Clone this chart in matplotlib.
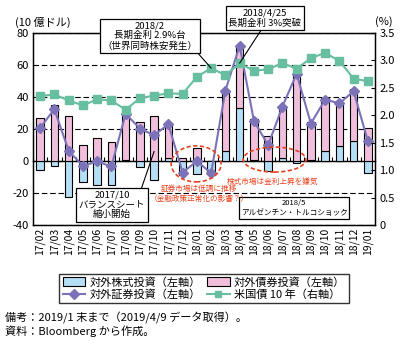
import matplotlib
matplotlib.use("Agg")
import matplotlib.pyplot as plt
import numpy as np
from matplotlib.lines import Line2D
from matplotlib.patches import Ellipse, Patch

plt.rcParams['font.family'] = ['Noto Sans CJK JP', 'DejaVu Sans']

months = ["17/02", "17/03", "17/04", "17/05", "17/06", "17/07", "17/08", "17/09",
          "17/10", "17/11", "17/12", "18/01", "18/02", "18/03", "18/04", "18/05",
          "18/06", "18/07", "18/08", "18/09", "18/10", "18/11", "18/12", "19/01"]

# 10億ドル
equity = [-5.5, -3.0, -22.5, -13.0, -14.7, -14.7, 0.8, -3.6, -11.6, 2.0, -8.8, -8.3,
          -7.0, 6.4, 33.2, 0.5, -6.1, 2.0, -1.1, 0.5, 6.4, 9.5, 12.6, -7.8]
bonds = [27.0, 35.3, 28.4, 10.0, 14.5, 12.0, 30.7, 24.5, 28.2, 21.5, 2.0, 8.2,
         -1.0, 37.5, 38.2, 25.5, 15.7, 32.5, 56.0, 24.0, 33.0, 27.5, 32.3, 20.7]
total = [20.7, 32.4, 6.4, -3.1, -0.3, -3.4, 29.5, 20.3, 16.1, 23.0, -7.2, -0.1,
         -7.6, 44.0, 72.0, 25.2, 9.9, 34.0, 54.5, 23.4, 38.4, 36.0, 43.6, 12.4]
# %
ust10y = [2.35, 2.38, 2.27, 2.18, 2.29, 2.27, 2.10, 2.31, 2.36, 2.40, 2.39, 2.70,
          2.86, 2.73, 2.95, 2.81, 2.84, 2.95, 2.85, 3.04, 3.14, 2.99, 2.67, 2.62]

left_ticks = [-40, -20, 0, 20, 40, 60, 80]
right_ticks = [0, 0.5, 1.0, 1.5, 2.0, 2.5, 3.0, 3.5]
right_labels = ["0", "0.5", "1.0", "1.5", "2.0", "2.5", "3.0", "3.5"]

BLUE = "#b5dff5"
PINK = "#f1bfdb"
PURPLE = "#7b72b8"
GREEN = "#68bf9f"
RED = "#e8401c"

W, H = 401, 345
fig = plt.figure(figsize=(W / 100, H / 100), dpi=100)
ax = fig.add_axes([33 / W, 1 - 225 / H, 342 / W, 192 / H])

x = np.arange(len(months))
eq = np.array(equity)
bd = np.array(bonds)
bd_bottom = np.where(np.sign(bd) == np.sign(eq), eq, 0)

ax.bar(x, eq, width=0.52, color=BLUE, edgecolor="black", linewidth=0.8, zorder=2)
ax.bar(x, bd, bottom=bd_bottom, width=0.52, color=PINK, edgecolor="black",
       linewidth=0.8, zorder=2)
ax.plot(x, total, color=PURPLE, lw=1.5, marker="D", markersize=5.5, zorder=4)

ax.set_xlim(-0.5, len(months) - 0.5)
ax.set_ylim(-40, 80)
ax.set_yticks(left_ticks)
ax.set_yticklabels([str(v) for v in left_ticks], fontsize=8)
ax.yaxis.grid(True, color="black", linestyle=(0, (5, 2.5)), linewidth=0.8)
ax.set_axisbelow(True)
ax.tick_params(axis="y", length=0, pad=3)
ax.set_xticks(x)
ax.set_xticklabels(months, rotation=90, fontsize=7.5)
ax.tick_params(axis="x", length=0, pad=2)
for s in ax.spines.values():
    s.set_linewidth(1.0)

# zero line with category separators
sec = ax.secondary_xaxis(1 / 3)
sec.set_xticks(np.arange(-0.5, len(months), 1))
sec.tick_params(direction="in", length=3, width=0.8, labelbottom=False, labeltop=False)
for s in sec.spines.values():
    s.set_linewidth(1.0)

ax2 = ax.twinx()
ax2.plot(x, ust10y, color=GREEN, lw=1.5, marker="s", markersize=5.5, zorder=5)
ax2.set_ylim(0, 3.5)
ax2.set_yticks(right_ticks)
ax2.set_yticklabels(right_labels, fontsize=8)
ax2.tick_params(axis="y", direction="in", length=3, pad=3)

fig.text(15 / W, 1 - 22 / H, "(10 億ドル)", fontsize=8, va="center", ha="left")
fig.text(375 / W, 1 - 22 / H, "(%)", fontsize=8, va="center", ha="left")

box = dict(boxstyle="square,pad=0.25", fc="white", ec="black", lw=0.9)
line = dict(arrowstyle="-", color="black", lw=0.8, shrinkA=0, shrinkB=0)

ax2.annotate("2018/2\n長期金利 2.9%台\n（世界同時株安発生）", xy=(12, ust10y[12]),
             xytext=(150, H - 36), textcoords="figure pixels", ha="center", va="center",
             fontsize=6.8, linespacing=1.1, bbox=box,
             arrowprops=dict(line, relpos=(0.98, 0)), zorder=10)
ax2.annotate("2018/4/25\n長期金利 3%突破", xy=(14, ust10y[14]),
             xytext=(265, H - 18), textcoords="figure pixels", ha="center", va="center",
             fontsize=6.8, linespacing=1.1, bbox=box,
             arrowprops=dict(line, relpos=(0.47, 0)), zorder=10)
ax2.annotate("2017/10\nバランスシート\n縮小開始", xy=(8, 6), xycoords=ax.transData,
             xytext=(112, H - 205), textcoords="figure pixels", ha="center", va="center",
             fontsize=6.8, linespacing=1.1, bbox=box,
             arrowprops=dict(line, relpos=(0.93, 1)), zorder=10)
ax2.text(294, H - 208, "2018/5\nアルゼンチン・トルコショック", transform=None,
         ha="center", va="center", fontsize=5.5, linespacing=1.3, bbox=box, zorder=10)

ax2.add_patch(Ellipse((10.95, -1.8), 3.5, 22.5, transform=ax.transData, fill=False,
                      ec=RED, lw=1.2, ls=(0, (2.5, 1.5)), zorder=9))
ax2.add_patch(Ellipse((16.45, 0.9), 4.4, 15.6, transform=ax.transData, fill=False,
                      ec=RED, lw=1.2, ls=(0, (2.5, 1.5)), zorder=9))
ax2.text(199, H - 194, "証券市場は低調に推移\n（金融政策正常化の影響？）", transform=None,
         ha="center", va="center", fontsize=5.5, color=RED, linespacing=1.4, zorder=10)
ax2.text(273, H - 182, "株式市場は金利上昇を嫌気", transform=None,
         ha="center", va="center", fontsize=5.5, color=RED, zorder=10)

handles = [
    Patch(facecolor=BLUE, edgecolor="black", linewidth=0.8, label="対外株式投資（左軸）"),
    Line2D([0], [0], color=PURPLE, lw=1.5, marker="D", markersize=5, label="対外証券投資（左軸）"),
    Patch(facecolor=PINK, edgecolor="black", linewidth=0.8, label="対外債券投資（左軸）"),
    Line2D([0], [0], color=GREEN, lw=1.5, marker="s", markersize=5, label="米国債 10 年（右軸）"),
]
leg = fig.legend(handles=handles, loc="center", bbox_to_anchor=(204 / W, 1 - 288.5 / H),
                 ncol=2, fontsize=8, frameon=True, fancybox=False, edgecolor="black",
                 handlelength=2.0, handleheight=0.9, handletextpad=0.4,
                 columnspacing=0.6, borderpad=0.3, labelspacing=0.15, borderaxespad=0)
leg.get_frame().set_linewidth(1.0)

fig.text(5 / W, 1 - 318 / H, "備考：2019/1 末まで（2019/4/9 データ取得）。", fontsize=8,
         va="center", ha="left")
fig.text(5 / W, 1 - 331 / H, "資料：Bloomberg から作成。", fontsize=8, va="center", ha="left")

fig.savefig("out.png", dpi=100)
